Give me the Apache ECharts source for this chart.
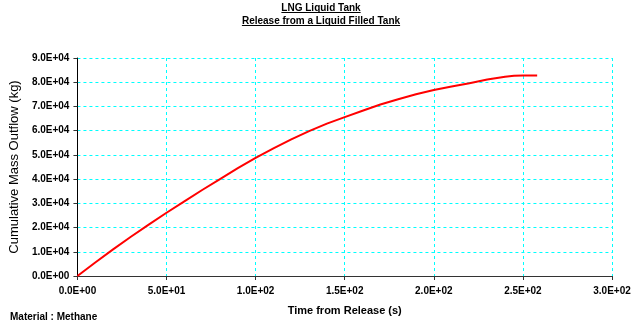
<!DOCTYPE html>
<html>
<head>
<meta charset="utf-8">
<script src="https://cdn.jsdelivr.net/npm/echarts@6/dist/echarts.min.js"></script>
<style>html,body{margin:0;padding:0;background:#fff}#c{width:642px;height:329px}</style>
</head>
<body>
<div id="c"></div>
<script>
const titleLines = ['LNG Liquid Tank', 'Release from a Liquid Filled Tank'];
const xAxisTitle = 'Time from Release (s)';
const yAxisTitle = 'Cumulative Mass Outflow (kg)';
const footnote = 'Material : Methane';
const timeS = [0, 10, 20, 30, 40, 50, 60, 70, 80, 90, 100, 110, 120, 130, 140, 150, 160, 170, 180, 190, 200, 210, 220, 230, 240, 245, 250, 258];
const massKg = [0, 5600, 11000, 16200, 21200, 26100, 30800, 35500, 40000, 44500, 48800, 52700, 56400, 59800, 62900, 65600, 68200, 70800, 73000, 75000, 76800, 78200, 79600, 81100, 82300, 82700, 82800, 82800];

function sci(v) {
  const parts = Number(v).toExponential(1).split('e');
  let e = parseInt(parts[1], 10);
  const sign = e < 0 ? '-' : '+';
  e = Math.abs(e);
  return parts[0] + 'E' + sign + (e < 10 ? '0' + e : '' + e);
}

const FONT = '"Liberation Sans", Arial, sans-serif';
const titleFont = 'bold 10px ' + FONT;
const ctx = document.createElement('canvas').getContext('2d');
ctx.font = titleFont;
const w1 = ctx.measureText(titleLines[0]).width;
const w2 = ctx.measureText(titleLines[1]).width;
const cx = 321;

const chart = echarts.init(document.getElementById('c'), null, {renderer: 'canvas'});
chart.setOption({
  animation: false,
  backgroundColor: '#ffffff',
  title: [
    {text: titleLines[0], left: 'center', top: 3, padding: 0, textStyle: {fontFamily: FONT, fontSize: 10, fontWeight: 'bold', color: '#000', lineHeight: 10}},
    {text: titleLines[1], left: 'center', top: 16, padding: 0, textStyle: {fontFamily: FONT, fontSize: 10, fontWeight: 'bold', color: '#000', lineHeight: 10}}
  ],
  graphic: [
    {type: 'rect', shape: {x: cx - w1 / 2, y: 12, width: w1, height: 1}, style: {fill: '#000'}},
    {type: 'rect', shape: {x: cx - w2 / 2, y: 25, width: w2, height: 1}, style: {fill: '#000'}},
    {type: 'text', left: 10, top: 312, style: {text: footnote, font: 'bold 10px ' + FONT, fill: '#000'}}
  ],
  grid: {left: 77, right: 30, top: 58, bottom: 53, containLabel: false, show: false},
  xAxis: {
    type: 'value', min: 0, max: 300, interval: 50,
    name: xAxisTitle, nameLocation: 'middle', nameGap: 29,
    nameTextStyle: {fontFamily: FONT, fontSize: 11, fontWeight: 'bold', color: '#000'},
    axisLine: {onZero: false, lineStyle: {color: '#333', width: 1}},
    axisTick: {show: true, length: 4, lineStyle: {color: '#333'}},
    axisLabel: {formatter: sci, fontFamily: FONT, fontSize: 10, fontWeight: 'bold', color: '#000', margin: 10},
    splitLine: {show: true, lineStyle: {color: '#00ffff', type: [3, 3], width: 1}}
  },
  yAxis: {
    type: 'value', min: 0, max: 90000, interval: 10000,
    name: yAxisTitle, nameLocation: 'middle', nameGap: 44,
    nameTextStyle: {fontFamily: FONT, fontSize: 13, color: '#000'},
    axisLine: {show: true, onZero: false, lineStyle: {color: '#000', width: 1}},
    axisTick: {show: true, length: 4, lineStyle: {color: '#333'}},
    axisLabel: {formatter: sci, fontFamily: FONT, fontSize: 10, fontWeight: 'bold', color: '#000', margin: 8},
    splitLine: {show: true, lineStyle: {color: '#00ffff', type: [3, 3], width: 1}}
  },
  series: [{
    type: 'line',
    data: timeS.map((t, i) => [t, massKg[i]]),
    showSymbol: false,
    smooth: false,
    lineStyle: {color: '#ff0000', width: 2},
    z: 5
  }]
});
</script>
</body>
</html>
